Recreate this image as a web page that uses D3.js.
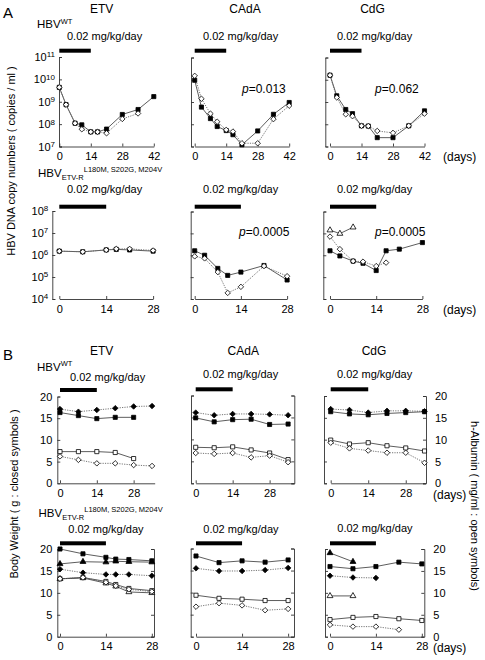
<!DOCTYPE html>
<html><head><meta charset="utf-8">
<script src="https://cdn.jsdelivr.net/npm/d3@7"></script>
<style>
body{margin:0;background:#fff}
svg{display:block}
text{font-family:"Liberation Sans",Arial,Helvetica,sans-serif;fill:#000}
</style>
</head><body><svg id="c" width="485" height="660"></svg>
<script>
// ---------------- DATA ----------------
const drugs = ["ETV", "CAdA", "CdG"];
const doseLabel = "0.02 mg/kg/day";
const doseDays = [0, 14];
const xTicksA1 = [0, 14, 28, 42];
const xTicksShort = [0, 14, 28];
const logTicksA1 = [1e7, 1e8, 1e9, 1e10, 1e11];
const logTicksA2 = [1e4, 1e5, 1e6, 1e7, 1e8];
const linTicksB = [0, 5, 10, 15, 20];
const pValuesA1 = ["", "0.013", "0.062"];
const pValuesA2 = ["", "0.0005", "0.0005"];

// Panel A, HBV WT (copies/ml)
const daysA1 = [0, 3, 7, 10, 14, 17, 21, 28, 35, 42];
const etvWtSq = [4.4e9, 7.4e8, 1.1e8, 9.3e7, 4.5e7, 4.5e7, 6.0e7, 2.7e8, 4.5e8, 1.7e9];
const etvWtDm = [4.4e9, 7.4e8, 1.1e8, 5.9e7, 4.5e7, 4.5e7, 3.9e7, 1.7e8, 3.0e8];
const cadaWtSq = [9.5e9, 5.9e8, 1.8e8, 7.9e7, 5.2e7, 3.4e7, 1.2e7, 5.0e7, 2.8e8, 9.5e8];
const cadaWtDm = [1.5e10, 1.4e9, 3.0e8, 1.3e8, 5.6e7, 4.7e7, 1.4e7, 1.4e7, 1.7e8, 6.8e8];
const cdgWtSq = [1.6e10, 1.9e9, 4.6e8, 3.0e8, 8.5e7, 8.3e7, 2.5e7, 2.5e7, 8.5e7, 4.0e8];
const cdgWtDm = [1.6e10, 1.6e9, 2.8e8, 2.3e8, 8.5e7, 8.3e7, 5.0e7, 4.1e7, 8.5e7, 3.0e8];

// Panel A, HBV ETV-R
const daysEtvMut = [0, 7, 14, 17, 21, 28];
const etvMutSq = [1.5e6, 1.4e6, 1.7e6, 1.8e6, 1.7e6, 1.5e6];
const etvMutDm = [1.5e6, 1.4e6, 1.7e6, 1.9e6, 1.9e6, 1.6e6];
const daysCadaMut = [0, 3, 7, 10, 14, 21, 28];
const cadaMutSq = [1.6e6, 1.0e6, 2.5e5, 1.2e5, 1.7e5, 3.4e5, 7.4e4];
const cadaMutDm = [8.9e5, 7.2e5, 1.7e5, 1.9e4, 3.6e4, 3.2e5, 1.1e5];
const daysCdgMut = [0, 3, 7, 10, 14, 17, 21, 28];
const cdgMutSq = [1.6e6, 9.3e5, 5.4e5, 4.3e5, 2.0e5, 1.6e6, 1.9e6, 3.8e6];
const cdgMutDm = [7.1e6, 1.9e6, 5.4e5, 5.1e5, 3.2e5, 4.6e5];
const cdgMutTri = [1.4e7, 9.8e6, 1.9e7];

// Panel B, HBV WT (body weight g closed, h-albumin mg/ml open)
const daysB1 = [0, 7, 14, 21, 28, 35];
const etvWtBwDm = [17.1, 16.5, 16.9, 17.3, 17.7, 17.8];
const etvWtBwSq = [16.3, 15.6, 14.9, 15.2, 15.2];
const etvWtAlbSq = [7.3, 7.3, 7.3, 7.1, 5.7];
const etvWtAlbDm = [6.2, 5.4, 4.6, 4.6, 4.2, 4.0];
const cadaWtBwDm = [16.1, 15.5, 15.8, 15.8, 15.7, 15.5];
const cadaWtBwSq = [14.9, 14.0, 14.5, 14.6, 13.4, 13.5];
const cadaWtAlbSq = [8.2, 8.1, 8.3, 7.6, 6.9, 5.4];
const cadaWtAlbDm = [6.9, 6.7, 6.9, 5.9, 6.3, 4.8];
const cdgWtBwDm = [17.0, 16.8, 16.2, 16.6, 16.6, 16.5];
const cdgWtBwSq = [16.4, 15.9, 15.7, 16.0, 16.2, 16.4];
const cdgWtAlbSq = [9.9, 9.0, 9.3, 8.6, 8.1, 7.4];
const cdgWtAlbDm = [9.3, 8.0, 7.5, 7.0, 7.0, 4.7];

// Panel B, HBV ETV-R
const daysEtvMutB = [0, 7, 14, 17, 21, 28];
const etvMutBwSq = [20.0, 18.9, 18.1, 17.7, 17.6, 17.3];
const etvMutBwTri = [16.6, 17.1, 17.0, 17.2, 17.1, 17.0];
const etvMutBwDm = [15.4, 14.6, 14.2, 14.2, 14.2, 13.9];
const etvMutAlbDm = [13.2, 13.5, 12.4, 11.6, 10.8, 10.3];
const etvMutAlbSq = [13.2, 13.5, 12.6, 11.9, 11.0, 10.5];
const etvMutAlbTri = [13.2, 13.4, 12.2, 11.5, 10.2, 10.0];
const daysB2 = [0, 7, 14, 21, 28];
const cadaMutBwSq = [18.3, 16.8, 17.2, 16.9, 17.4];
const cadaMutBwDm = [15.5, 14.9, 14.9, 15.1, 15.6];
const cadaMutAlbSq = [9.4, 8.7, 8.5, 8.2, 8.2];
const cadaMutAlbDm = [6.8, 7.6, 7.1, 6.0, 6.3];
const cdgMutBwTri = [19.1, 17.1];
const cdgMutBwSq = [16.0, 15.5, 16.0, 17.0, 16.6];
const cdgMutBwDm = [13.9, 13.5, 13.4];
const cdgMutAlbTri = [9.3, 9.3];
const cdgMutAlbSq = [3.9, 4.4, 4.6, 4.1, 3.7];
const cdgMutAlbDm = [2.7, 2.3, 2.3, 1.6];

// ---------------- DRAWING ----------------
const svg = d3.select("#c");
const AX = "#333";
const FS = 11;

function S(days, vals, shape, filled, dotted) { return {days, vals, shape, filled, dotted}; }

const panels = [
  // Row A1
  {x0:59.3, ppd:2.25, xEnd:42, yAx:59, yTop:57, yBot:146.5, log:true, dom:[1e7,1e11], yt:logTicksA1, xt:xTicksA1, left:true, barY:50.7, doseX:67, doseY:40, p:pValuesA1[0],
   series:[S(daysA1,etvWtSq,"sq",true,false), S(daysA1.slice(0,9),etvWtDm,"dm",false,true)]},
  {x0:194.7, ppd:2.25, xEnd:42, yAx:191, yTop:57.5, yBot:146.5, log:true, dom:[1e7,1e11], yt:logTicksA1, xt:xTicksA1, barY:50.7, doseX:203, doseY:40, p:pValuesA1[1], px:242, py:93,
   series:[S(daysA1,cadaWtSq,"sq",true,false), S(daysA1,cadaWtDm,"dm",false,true)]},
  {x0:330, ppd:2.25, xEnd:42, yAx:325.3, yTop:57.5, yBot:146.5, log:true, dom:[1e7,1e11], yt:logTicksA1, xt:xTicksA1, barY:50.7, doseX:337, doseY:40, p:pValuesA1[2], px:375, py:93, days:true,
   series:[S(daysA1,cdgWtSq,"sq",true,false), S(daysA1,cdgWtDm,"dm",false,true)]},
  // Row A2
  {x0:59.3, ppd:3.35, xEnd:28, yAx:52.3, yTop:211, yBot:299, log:true, dom:[1e4,1e8], yt:logTicksA2, xt:xTicksShort, left:true, barY:206.7, doseX:67, doseY:193,
   series:[S(daysEtvMut,etvMutSq,"sq",true,false), S(daysEtvMut,etvMutDm,"dm",false,true)]},
  {x0:194.7, ppd:3.3, xEnd:28, yAx:190.7, yTop:211.5, yBot:299, log:true, dom:[1e4,1e8], yt:logTicksA2, xt:xTicksShort, barY:206.7, doseX:203, doseY:193, p:pValuesA2[1], px:239, py:235.7,
   series:[S(daysCadaMut,cadaMutSq,"sq",true,false), S(daysCadaMut,cadaMutDm,"dm",false,true)]},
  {x0:330, ppd:3.3, xEnd:28, yAx:323.3, yTop:211.5, yBot:299, log:true, dom:[1e4,1e8], yt:logTicksA2, xt:xTicksShort, barY:206.7, doseX:337, doseY:193, p:pValuesA2[2], px:375, py:235.7, days:true,
   series:[S(daysCdgMut,cdgMutSq,"sq",true,false), S(daysCdgMut.slice(0,6),cdgMutDm,"dm",false,true), S(daysCdgMut.slice(0,3),cdgMutTri,"tri",false,false)]},
  // Row B1
  {x0:60, ppd:2.63, xEnd:36, yAx:57.3, yTop:396.5, yBot:483.3, log:false, dom:[0,20], yt:linTicksB, xt:xTicksShort, left:true, barY:390, doseX:70, doseY:381,
   series:[S(daysB1,etvWtBwDm,"dm",true,true), S(daysB1.slice(0,5),etvWtBwSq,"sq",true,false), S(daysB1.slice(0,5),etvWtAlbSq,"sq",false,false), S(daysB1,etvWtAlbDm,"dm",false,true)]},
  {x0:195.7, ppd:2.64, xEnd:37.3, yAx:191, yTop:395.5, yBot:483.3, log:false, dom:[0,20], yt:linTicksB, xt:xTicksShort, right:294.3, barY:389.3, doseX:203, doseY:377.7,
   series:[S(daysB1,cadaWtBwDm,"dm",true,true), S(daysB1,cadaWtBwSq,"sq",true,false), S(daysB1,cadaWtAlbSq,"sq",false,false), S(daysB1,cadaWtAlbDm,"dm",false,true)]},
  {x0:330.7, ppd:2.68, xEnd:35.3, yAx:324, yTop:396, yBot:483.3, log:false, dom:[0,20], yt:linTicksB, xt:xTicksShort, right:426, rightLabels:true, barY:389.3, doseX:337, doseY:377.7, daysB:true,
   series:[S(daysB1,cdgWtBwDm,"dm",true,true), S(daysB1,cdgWtBwSq,"sq",true,false), S(daysB1,cdgWtAlbSq,"sq",false,false), S(daysB1,cdgWtAlbDm,"dm",false,true)]},
  // Row B2
  {x0:60, ppd:3.28, xEnd:28.6, yAx:57.3, yTop:549, yBot:636.7, log:false, dom:[0,20], yt:linTicksB, xt:xTicksShort, left:true, right:154, barY:543.3, doseX:68.3, doseY:533.3,
   series:[S(daysEtvMutB,etvMutBwSq,"sq",true,false), S(daysEtvMutB,etvMutBwTri,"tri",true,false), S(daysEtvMutB,etvMutBwDm,"dm",true,true),
           S(daysEtvMutB,etvMutAlbTri,"tri",false,false), S(daysEtvMutB,etvMutAlbSq,"sq",false,false), S(daysEtvMutB,etvMutAlbDm,"dm",false,true)]},
  {x0:196, ppd:3.29, xEnd:29.8, yAx:190.7, yTop:548.5, yBot:636.7, log:false, dom:[0,20], yt:linTicksB, xt:xTicksShort, right:294, barY:543.3, doseX:203.3, doseY:533,
   series:[S(daysB2,cadaMutBwSq,"sq",true,false), S(daysB2,cadaMutBwDm,"dm",true,true), S(daysB2,cadaMutAlbSq,"sq",false,false), S(daysB2,cadaMutAlbDm,"dm",false,true)]},
  {x0:330, ppd:3.28, xEnd:28.5, yAx:325, yTop:549, yBot:636.7, log:false, dom:[0,20], yt:linTicksB, xt:xTicksShort, right:424.3, rightLabels:true, barY:543.3, doseX:337.3, doseY:532, daysB:true,
   series:[S(daysB2.slice(0,2),cdgMutBwTri,"tri",true,false), S(daysB2,cdgMutBwSq,"sq",true,false), S(daysB2.slice(0,3),cdgMutBwDm,"dm",true,true),
           S(daysB2.slice(0,2),cdgMutAlbTri,"tri",false,false), S(daysB2,cdgMutAlbSq,"sq",false,false), S(daysB2.slice(0,4),cdgMutAlbDm,"dm",false,true)]}
];

const symDiamond = {draw(ctx, size) { const r = Math.sqrt(size / 2); ctx.moveTo(0, -r); ctx.lineTo(r, 0); ctx.lineTo(0, r); ctx.lineTo(-r, 0); ctx.closePath(); }};
const symType = {sq: d3.symbolSquare, dm: symDiamond, tri: d3.symbolTriangle};
const symSize = {sq: 17, dm: 15, tri: 15};

function styleAxis(g) {
  g.selectAll("path.domain").attr("stroke", AX).attr("stroke-width", 0.9);
  g.selectAll(".tick line").attr("stroke", AX).attr("stroke-width", 0.9);
  g.selectAll(".tick text").attr("font-size", FS).attr("font-family", "Liberation Sans, Arial, sans-serif").attr("fill", "#000");
}

panels.forEach(p => {
  const g = svg.append("g");
  const x = d3.scaleLinear().domain([0, p.xEnd]).range([p.x0, p.x0 + p.ppd * p.xEnd]);
  const y = (p.log ? d3.scaleLog() : d3.scaleLinear()).domain(p.dom).range([p.yBot, p.yTop]);

  const xa = g.append("g").attr("transform", `translate(0,${p.yBot})`)
    .call(d3.axisBottom(x).tickValues(p.xt).tickFormat(d3.format("d")).tickSizeInner(-3).tickSizeOuter(0).tickPadding(6));
  styleAxis(xa);

  const ya = g.append("g").attr("transform", `translate(${p.yAx},0)`)
    .call(d3.axisLeft(y).tickValues(p.yt).tickSizeInner(-3).tickSizeOuter(-3).tickPadding(p.log ? 4 : 5)
      .tickFormat(p.log ? (d => "") : d3.format("d")));
  styleAxis(ya);
  if (!p.left) ya.selectAll(".tick text").remove();
  else if (p.log) {
    ya.selectAll(".tick text").each(function(d) {
      const t = d3.select(this);
      t.append("tspan").text("10");
      t.append("tspan").attr("dy", "-0.45em").attr("font-size", 8).text(Math.round(Math.log10(d)));
    });
  }
  if (p.right) {
    const ra = g.append("g").attr("transform", `translate(${p.right},0)`)
      .call(d3.axisRight(y).tickValues(p.yt).tickSizeInner(-3).tickSizeOuter(-3).tickPadding(9).tickFormat(d3.format("d")));
    styleAxis(ra);
    if (!p.rightLabels) ra.selectAll(".tick text").remove();
  }

  g.append("rect").attr("x", x(doseDays[0])).attr("width", x(doseDays[1]) - x(doseDays[0]))
    .attr("y", p.barY - 2).attr("height", 4).attr("fill", "#000");
  g.append("text").attr("x", p.doseX).attr("y", p.doseY).attr("font-size", FS).text(doseLabel);

  p.series.forEach(s => {
    const pts = s.vals.map((v, i) => [x(s.days[i]), y(v)]);
    g.append("path").attr("d", d3.line()(pts)).attr("fill", "none")
      .attr("stroke", s.dotted ? "#666" : "#333").attr("stroke-width", s.dotted ? 0.9 : 0.8)
      .attr("stroke-dasharray", s.dotted ? "1.2,1.2" : null);
  });
  p.series.forEach(s => {
    const sym = d3.symbol().type(symType[s.shape]).size(symSize[s.shape]);
    g.selectAll(null).data(s.vals).enter().append("path")
      .attr("d", sym)
      .attr("transform", (v, i) => `translate(${x(s.days[i])},${y(v)})`)
      .attr("fill", s.filled ? "#000" : "#fff")
      .attr("stroke", "#000").attr("stroke-width", 0.8);
  });

  if (p.p) {
    const t = g.append("text").attr("x", p.px).attr("y", p.py).attr("font-size", FS + 1);
    t.append("tspan").attr("font-style", "italic").text("p");
    t.append("tspan").text("=" + p.p);
  }
  if (p.days) g.append("text").attr("x", 443).attr("y", p.yBot + 14.5).attr("font-size", FS + 1).text("(days)");
  if (p.daysB) g.append("text").attr("x", 433).attr("y", p.yBot + 15.5).attr("font-size", FS + 1).text("(days)");
});

svg.append("text").attr("x", 3).attr("y", 18).attr("font-size", 15).text("A");
svg.append("text").attr("x", 3).attr("y", 360).attr("font-size", 15).text("B");
const titleX = [101.7, 245, 372.5];
const titleXB = [101.7, 243.3, 374];
drugs.forEach((d, i) => {
  svg.append("text").attr("x", titleX[i]).attr("y", 12.8).attr("text-anchor", "middle").attr("font-size", 12).text(d);
  svg.append("text").attr("x", titleXB[i]).attr("y", 354.5).attr("text-anchor", "middle").attr("font-size", 12).text(d);
});

function wtLabel(x0, y0) {
  const t = svg.append("text").attr("x", x0).attr("y", y0).attr("font-size", FS + 0.5);
  t.append("tspan").text("HBV");
  t.append("tspan").attr("dy", -4.5).attr("font-size", 7.5).text("WT");
}
function mutLabel(x0, y0) {
  const t = svg.append("text").attr("x", x0).attr("y", y0).attr("font-size", FS + 0.5);
  t.append("tspan").text("HBV");
  t.append("tspan").attr("dy", 3).attr("font-size", 7.5).text("ETV-R");
  t.append("tspan").attr("dy", -8).attr("font-size", 7.5).text("L180M, S202G, M204V");
}
wtLabel(37, 28);
mutLabel(38, 177);
wtLabel(37, 370.5);
mutLabel(38.5, 516.7);

svg.append("text").attr("transform", "translate(15,161) rotate(-90)").attr("text-anchor", "middle").attr("font-size", FS)
  .text("HBV DNA copy numbers ( copies / ml )");
svg.append("text").attr("transform", "translate(18,494) rotate(-90)").attr("text-anchor", "middle").attr("font-size", FS)
  .text("Body Weight ( g : closed symbols )");
svg.append("text").attr("transform", "translate(471,506) rotate(90)").attr("text-anchor", "middle").attr("font-size", FS)
  .text("h-Albumin ( mg/ml : open symbols)");
</script></body></html>
